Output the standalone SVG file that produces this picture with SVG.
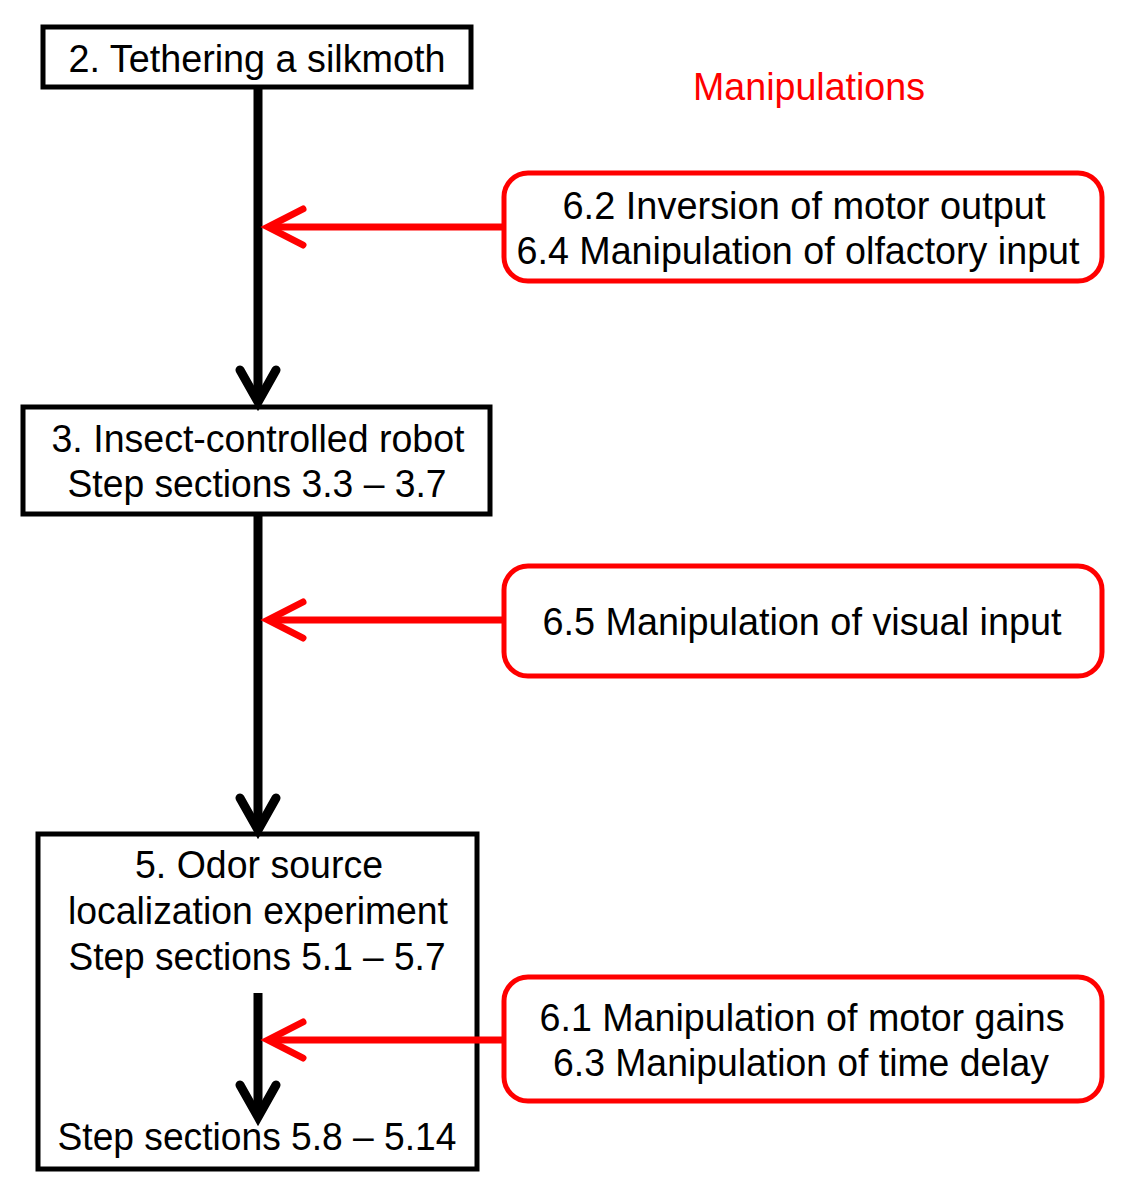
<svg xmlns="http://www.w3.org/2000/svg" width="1122" height="1200" viewBox="0 0 1122 1200">
<style>
.bk{fill:#fff;stroke:#000;stroke-width:5}
.rd{fill:#fff;stroke:#f00;stroke-width:5}
.t{font-family:"Liberation Sans",Arial,sans-serif;font-size:38px;fill:#000;text-anchor:middle}
.tr{font-family:"Liberation Sans",Arial,sans-serif;font-size:38px;fill:#000;text-anchor:middle}
.bl{stroke:#000;stroke-width:9;fill:none}
.bh{stroke:#000;stroke-width:9;fill:none;stroke-linecap:round;stroke-linejoin:miter}
.rl{stroke:#f00;stroke-width:7;fill:none}
.rh{stroke:#f00;stroke-width:7;fill:none;stroke-linecap:round}
</style>
<rect width="1122" height="1200" fill="#fff"/>
<g id="node-tethering">
<rect class="bk" x="43" y="27" width="428" height="60"/>
<text class="t" x="257" y="72" textLength="377" lengthAdjust="spacingAndGlyphs">2. Tethering a silkmoth</text>
</g>
<g id="node-robot">
<rect class="bk" x="23" y="407" width="467" height="107"/>
<text class="t" x="258" y="452" textLength="413" lengthAdjust="spacingAndGlyphs">3. Insect-controlled robot</text>
<text class="t" x="257" y="497" textLength="379" lengthAdjust="spacingAndGlyphs">Step sections 3.3 – 3.7</text>
</g>
<g id="node-odor">
<rect class="bk" x="38" y="834" width="439" height="335"/>
<text class="t" x="259" y="878" textLength="248" lengthAdjust="spacingAndGlyphs">5. Odor source</text>
<text class="t" x="258" y="924" textLength="380" lengthAdjust="spacingAndGlyphs">localization experiment</text>
<text class="t" x="257" y="970" textLength="377" lengthAdjust="spacingAndGlyphs">Step sections 5.1 – 5.7</text>
<text class="t" x="257" y="1150" textLength="399" lengthAdjust="spacingAndGlyphs">Step sections 5.8 – 5.14</text>
</g>
<g id="title-manipulations">
<text class="t" x="809" y="100" style="fill:#f00" textLength="232" lengthAdjust="spacingAndGlyphs">Manipulations</text>
</g>
<g id="node-manip-1">
<rect class="rd" x="504" y="173" width="598" height="108" rx="24"/>
<text class="tr" x="804" y="219" textLength="483" lengthAdjust="spacingAndGlyphs">6.2 Inversion of motor output</text>
<text class="tr" x="798" y="264" textLength="563" lengthAdjust="spacingAndGlyphs">6.4 Manipulation of olfactory input</text>
</g>
<g id="node-manip-2">
<rect class="rd" x="504" y="566" width="598" height="110" rx="24"/>
<text class="tr" x="802" y="635" textLength="519" lengthAdjust="spacingAndGlyphs">6.5 Manipulation of visual input</text>
</g>
<g id="node-manip-3">
<rect class="rd" x="504" y="977" width="598" height="124" rx="24"/>
<text class="tr" x="802" y="1031" textLength="525" lengthAdjust="spacingAndGlyphs">6.1 Manipulation of motor gains</text>
<text class="tr" x="801" y="1076" textLength="496" lengthAdjust="spacingAndGlyphs">6.3 Manipulation of time delay</text>
</g>
<g id="connectors">
<line class="bl" x1="258" y1="88" x2="258" y2="398"/>
<polyline class="bh" points="240,370 258,402 276,370"/>
<line class="bl" x1="258" y1="515" x2="258" y2="825"/>
<polyline class="bh" points="240,798 258,830 276,798"/>
<line class="bl" x1="258" y1="993" x2="258" y2="1112"/>
<polyline class="bh" points="240,1085 258,1117 276,1085"/>
<line class="rl" x1="503" y1="227" x2="272" y2="227"/>
<polyline class="rh" points="303,209 268,227 303,245"/>
<line class="rl" x1="503" y1="620" x2="272" y2="620"/>
<polyline class="rh" points="303,602 268,620 303,638"/>
<line class="rl" x1="503" y1="1040" x2="272" y2="1040"/>
<polyline class="rh" points="303,1022 268,1040 303,1058"/>
</g>
</svg>
